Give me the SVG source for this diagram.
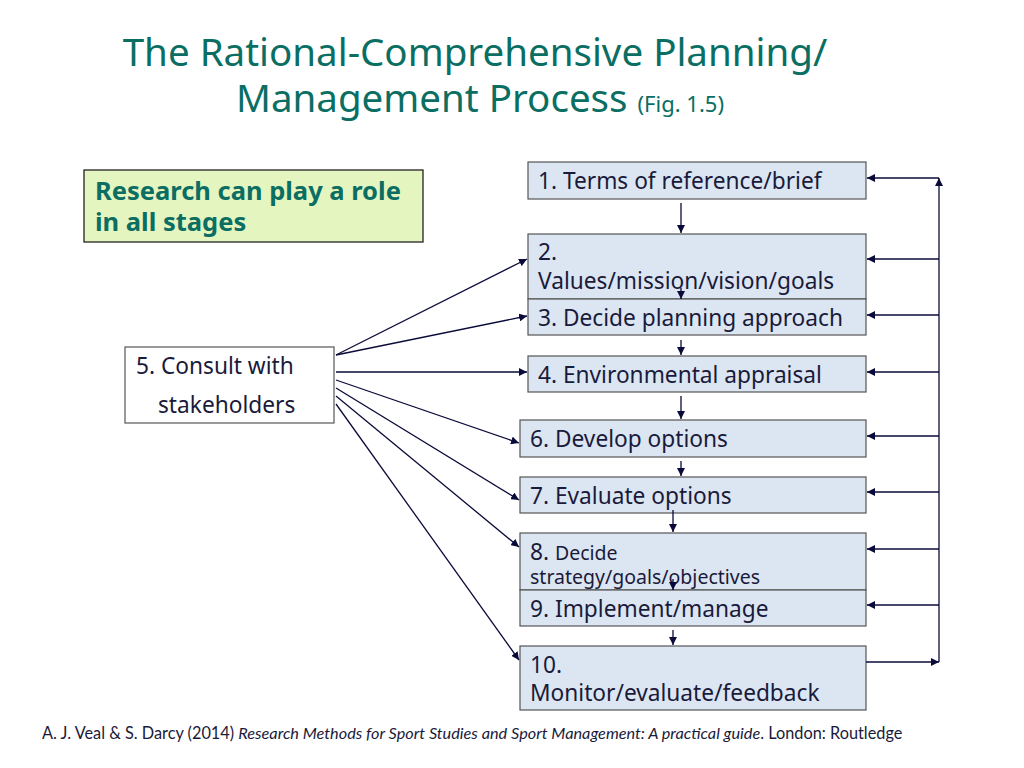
<svg xmlns="http://www.w3.org/2000/svg" width="1024" height="768" viewBox="0 0 1024 768">
<style>
text{font-family:"Noto Sans","Open Sans",sans-serif;fill:#1a1a3a}
.b{fill:#dce6f2;stroke:#555;stroke-width:1.2}
.t{font-size:22.7px}
.c line{stroke:#0a0a3a;stroke-width:1.3;fill:none}
</style>
<defs><marker id="a" viewBox="0 0 10 10" refX="10" refY="5" markerWidth="8" markerHeight="8" markerUnits="userSpaceOnUse" orient="auto"><path d="M0,0L10,5L0,10z" fill="#0a0a3a"/></marker></defs>
<rect width="1024" height="768" fill="#fff"/>
<text x="475" y="66" text-anchor="middle" style="font-size:38.5px;fill:#0b6e63">The Rational-Comprehensive Planning/</text>
<text x="480" y="112" text-anchor="middle" style="font-size:38.5px;fill:#0b6e63">Management Process <tspan style="font-size:22px">(Fig. 1.5)</tspan></text>
<g id="research"><rect x="84" y="170" width="339" height="72" fill="#e5f5c0" stroke="#222" stroke-width="1.3"/><text x="95" y="200" style="font-size:25.5px;font-weight:bold;fill:#0b6e63">Research can play a role</text><text x="95" y="231" style="font-size:25.5px;font-weight:bold;fill:#0b6e63">in all stages</text></g>
<g id="n5"><rect class="b" x="125" y="347" width="209" height="76" style="fill:#fff"/><text class="t" x="136" y="374">5. Consult with</text><text class="t" x="158" y="413">stakeholders</text></g>
<g id="n1"><rect class="b" x="528" y="162" width="338" height="37"/><text class="t" x="538" y="189">1. Terms of reference/brief</text></g>
<g id="n2"><rect class="b" x="528" y="234" width="338" height="65"/><text class="t" x="538" y="260">2.</text><text class="t" x="538" y="289">Values/mission/vision/goals</text></g>
<g id="n3"><rect class="b" x="528" y="299" width="338" height="36"/><text class="t" x="538" y="326">3. Decide planning approach</text></g>
<g id="n4"><rect class="b" x="528" y="356" width="338" height="36"/><text class="t" x="538" y="383">4. Environmental appraisal</text></g>
<g id="n6"><rect class="b" x="520" y="420" width="346" height="37"/><text class="t" x="530" y="447">6. Develop options</text></g>
<g id="n7"><rect class="b" x="520" y="477" width="346" height="36"/><text class="t" x="530" y="504">7. Evaluate options</text></g>
<g id="n8"><rect class="b" x="520" y="533" width="346" height="57"/><text class="t" x="530" y="560">8. <tspan style="font-size:19.5px">Decide</tspan></text><text x="530" y="584" style="font-size:19.5px">strategy/goals/objectives</text></g>
<g id="n9"><rect class="b" x="520" y="590" width="346" height="36"/><text class="t" x="530" y="617">9. Implement/manage</text></g>
<g id="n10"><rect class="b" x="520" y="646" width="346" height="64"/><text class="t" x="530" y="673">10.</text><text class="t" x="530" y="701">Monitor/evaluate/feedback</text></g>
<g class="c">
<line x1="681" y1="203" x2="681" y2="233" marker-end="url(#a)"/>
<line x1="681" y1="288" x2="681" y2="299" marker-end="url(#a)"/>
<line x1="681" y1="340" x2="681" y2="355" marker-end="url(#a)"/>
<line x1="681" y1="396" x2="681" y2="419" marker-end="url(#a)"/>
<line x1="681" y1="461" x2="681" y2="476" marker-end="url(#a)"/>
<line x1="673" y1="510" x2="673" y2="532" marker-end="url(#a)"/>
<line x1="673" y1="579" x2="673" y2="590" marker-end="url(#a)"/>
<line x1="673" y1="630" x2="673" y2="645" marker-end="url(#a)"/>
<line x1="866" y1="662" x2="939" y2="662" marker-end="url(#a)"/>
<line x1="939" y1="662" x2="939" y2="178" marker-end="url(#a)"/>
<line x1="939" y1="178" x2="867" y2="178" marker-end="url(#a)"/>
<line x1="939" y1="259" x2="867" y2="259" marker-end="url(#a)"/>
<line x1="939" y1="315" x2="867" y2="315" marker-end="url(#a)"/>
<line x1="939" y1="372" x2="867" y2="372" marker-end="url(#a)"/>
<line x1="939" y1="436" x2="867" y2="436" marker-end="url(#a)"/>
<line x1="939" y1="492" x2="867" y2="492" marker-end="url(#a)"/>
<line x1="939" y1="549" x2="867" y2="549" marker-end="url(#a)"/>
<line x1="939" y1="605" x2="867" y2="605" marker-end="url(#a)"/>
<line x1="336" y1="355" x2="527" y2="259" marker-end="url(#a)"/>
<line x1="336" y1="355" x2="527" y2="316" marker-end="url(#a)"/>
<line x1="336" y1="372" x2="527" y2="372" marker-end="url(#a)"/>
<line x1="336" y1="380" x2="519" y2="443" marker-end="url(#a)"/>
<line x1="336" y1="388" x2="519" y2="500" marker-end="url(#a)"/>
<line x1="336" y1="396" x2="519" y2="547" marker-end="url(#a)"/>
<line x1="336" y1="404" x2="519" y2="660" marker-end="url(#a)"/>
</g>
<text x="42" y="739" style="font-size:16.3px;font-family:Lato,'Liberation Sans',sans-serif">A. J. Veal &amp; S. Darcy (2014) <tspan font-style="italic">Research Methods for Sport Studies and Sport Management: A practical guide</tspan>. London: Routledge</text>
</svg>
